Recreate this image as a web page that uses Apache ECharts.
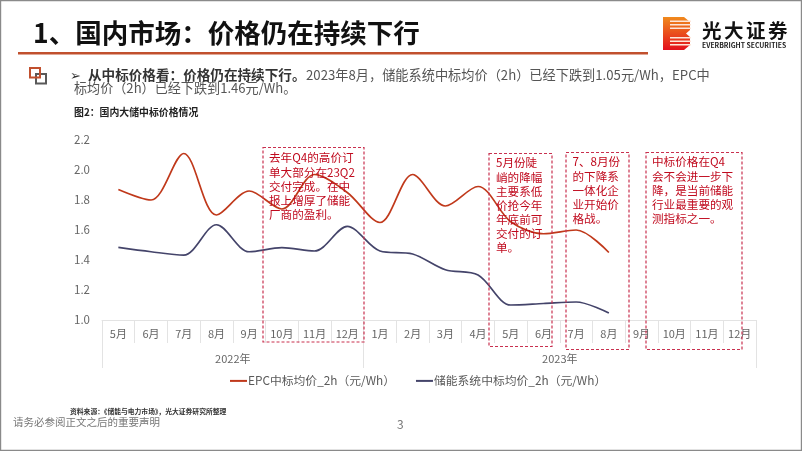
<!DOCTYPE html>
<html><head><meta charset="utf-8">
<style>html,body{margin:0;padding:0;background:#fff}#c{width:802px;height:451px}</style>
<script src="https://cdn.jsdelivr.net/npm/echarts@6/dist/echarts.min.js"></script>
</head><body><div id="c"></div>
<script>
const months = ['5月','6月','7月','8月','9月','10月','11月','12月','1月','2月','3月','4月','5月','6月','7月','8月','9月','10月','11月','12月'];
const years = ['2022年','2023年'];
const yearBoundaries = [0,8,20];
const yearCentres = [4,14];
const epcName = 'EPC中标均价_2h（元/Wh）';
const sysName = '储能系统中标均价_2h（元/Wh）';
const epcValues = [1.87,1.80,2.11,1.70,1.86,1.74,1.97,1.85,1.65,1.97,1.76,1.89,1.655,1.575,1.60,1.45];
const sysValues = [1.484,1.455,1.433,1.635,1.455,1.482,1.46,1.624,1.46,1.44,1.335,1.30,1.10,1.11,1.12,1.046];
const yTicks = {min:1.0,max:2.2,step:0.2};
const F = '"Noto Sans CJK SC","Noto Sans",sans-serif';

function txt(x,y,text,size,fill,weight,extra){
  return {type:'text',x,y,silent:true,z:20,style:Object.assign({text,fontFamily:F,fontSize:size,fill,fontWeight:weight||'normal',textVerticalAlign:'middle',textBaseline:'middle'},extra||{})};
}
function box(x,y,w,h,lines,tx,ty){
  const out=[{type:'rect',z:15,silent:true,shape:{x,y,width:w,height:h},style:{fill:'none',stroke:'#c9304f',lineWidth:1.2,lineDash:[3,2]}}];
  lines.forEach((l,i)=>out.push(txt(tx,ty+i*14.1,l,11.6,'#c00a1e')));
  return out;
}
const stripes=[];
[20.5,24,27.5,37,40.5,44].forEach(y=>stripes.push({type:'rect',z:12,silent:true,shape:{x:670,y,width:21,height:1.5},style:{fill:'#fde6da'}}));
const logoChars=[];
'光大证券'.split('').forEach((c,i)=>logoChars.push(txt(702+i*22,31,c,19.5,'#111','bold')));
const graphics=[
  {type:'rect',silent:true,z:1,shape:{x:0.5,y:0.5,width:801,height:450},style:{fill:'none',stroke:'#8a8a8a',lineWidth:1.4}},
  txt(33,33,'1、国内市场：价格仍在持续下行',26.5,'#111','bold'),
  {type:'rect',silent:true,shape:{x:18,y:52,width:630,height:2.6},style:{fill:'#c1502e'}},
  {type:'rect',silent:true,z:5,shape:{x:30,y:68,width:10,height:9.5},style:{fill:'none',stroke:'#c1502e',lineWidth:2}},
  {type:'rect',silent:true,z:4,shape:{x:36,y:74,width:10,height:9.5},style:{fill:'none',stroke:'#595959',lineWidth:2}},
  txt(70,75,'➢',13,'#333'),
  txt(88,75,'从中标价格看：价格仍在持续下行。',13.6,'#333','bold'),
  txt(306,75,'2023年8月，储能系统中标均价（2h）已经下跌到1.05元/Wh，EPC中',13.2,'#555'),
  txt(74,88.5,'标均价（2h）已经下跌到1.46元/Wh。',13.1,'#555'),
  txt(74,112,'图2：国内大储中标价格情况',9.9,'#222','bold'),
  txt(70,411,'资料来源：《储能与电力市场》，光大证券研究所整理',6.8,'#333','bold'),
  txt(13,422,'请务必参阅正文之后的重要声明',10.5,'#777'),
  txt(397,424,'3',12,'#777'),
  {type:'polygon',silent:true,z:11,shape:{points:[[663,17],[684,17],[690,22],[690,30],[686,33.5],[690,37],[690,45],[684,50],[663,50]]},style:{fill:{type:'linear',x:0,y:0,x2:0,y2:1,colorStops:[{offset:0,color:'#f08a1d'},{offset:1,color:'#e3101c'}]}}},
  ...stripes,
  ...logoChars,
  txt(702,45.5,'EVERBRIGHT SECURITIES',6.8,'#222','bold'),
  ...box(263,147.5,101,194.5,['去年Q4的高价订','单大部分在23Q2','交付完成。在中','报上增厚了储能','厂商的盈利。'],269,158),
  ...box(489,153.5,63,193,['5月份陡','峭的降幅','主要系低','价抢今年','年底前可','交付的订','单。'],496,163),
  ...box(566,152.5,63,197,['7、8月份','的下降系','一体化企','业开始价','格战。'],572.5,162),
  ...box(646,152.5,96,197,['中标价格在Q4','会不会进一步下','降，是当前储能','行业最重要的观','测指标之一。'],652,162)
];
const axisGrey='#e3e3e3', labelGrey='#666';
const option={
  animation:false,
  textStyle:{fontFamily:F},
  grid:{left:102,top:140,width:654,height:180,containLabel:false},
  legend:{left:225,top:370,itemWidth:17,itemHeight:2,itemGap:21,icon:'rect',
    textStyle:{fontFamily:F,fontSize:11.8,color:'#595959',padding:[0,0,0,-4]},
    data:[epcName,sysName]},
  xAxis:[
    {type:'category',data:months,boundaryGap:true,position:'bottom',
     axisLine:{show:true,lineStyle:{color:axisGrey}},
     axisTick:{show:true,length:23,lineStyle:{color:axisGrey}},
     axisLabel:{interval:0,color:labelGrey,fontSize:11,margin:8,fontFamily:F},splitLine:{show:false}},
    {type:'value',min:yearBoundaries[0],max:yearBoundaries[2],position:'bottom',
     axisLine:{show:false},
     axisTick:{show:true,length:48,customValues:yearBoundaries,lineStyle:{color:axisGrey}},
     axisLabel:{show:true,customValues:yearCentres,color:labelGrey,fontSize:11,margin:33,fontFamily:F,
       formatter:v=>years[yearCentres.indexOf(v)]},
     splitLine:{show:false}}
  ],
  yAxis:{type:'value',min:yTicks.min,max:yTicks.max,interval:yTicks.step,
    axisLine:{show:false},axisTick:{show:false},splitLine:{show:false},
    axisLabel:{color:labelGrey,fontSize:11.5,margin:12,fontFamily:F,formatter:v=>v.toFixed(1)}},
  series:[
    {name:epcName,type:'line',data:epcValues,smooth:0.32,showSymbol:false,symbol:'none',lineStyle:{color:'#c0391b',width:1.7},itemStyle:{color:'#c0391b'},z:3},
    {name:sysName,type:'line',data:sysValues,smooth:0.32,showSymbol:false,symbol:'none',lineStyle:{color:'#44446a',width:1.7},itemStyle:{color:'#44446a'},z:3}
  ],
  graphic:graphics
};
const chart=echarts.init(document.getElementById('c'),null,{renderer:'canvas'});
chart.setOption(option);
</script></body></html>
